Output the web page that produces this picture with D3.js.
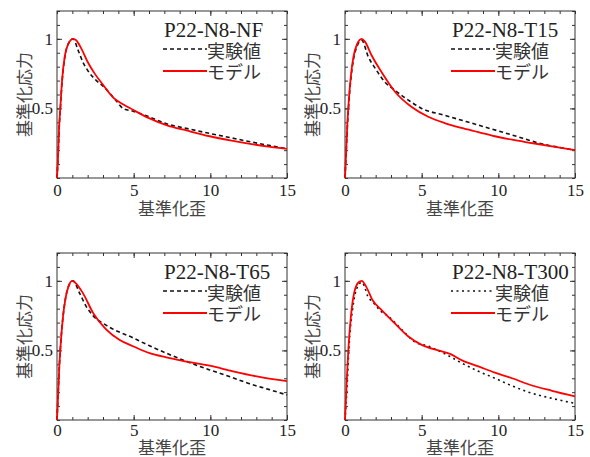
<!DOCTYPE html>
<html>
<head>
<meta charset="utf-8">
<script src="https://cdn.jsdelivr.net/npm/d3@7"></script>
<style>
  body { margin: 0; background: #fff; }
  svg { display: block; }
</style>
</head>
<body>
<svg id="Viz"></svg>
<script>
var width = 590,
    height = 457;

// normalized strain / normalized stress
var titles = ["P22-N8-NF", "P22-N8-T15", "P22-N8-T65", "P22-N8-T300"];
var expLabel = "実験値",
    modelLabel = "モデル";
var xTicks = [0, 5, 10, 15],
    yTicks = [0.5, 1];

var nfExp = [[0,0],[0.07,0.15],[0.13,0.33],[0.22,0.50],[0.33,0.69],[0.5,0.86],[0.72,0.96],[1.05,1.0],[1.37,0.92],[1.7,0.83],[2.02,0.77],[2.57,0.70],[3.0,0.66],[3.43,0.61],[3.9,0.55],[4.3,0.50],[4.96,0.48],[6,0.44],[7.13,0.39],[8.5,0.355],[9.96,0.32],[11.3,0.29],[12.6,0.26],[13.8,0.235],[15,0.21]];
var nfModel = [[0,0],[0.07,0.155],[0.13,0.345],[0.22,0.51],[0.33,0.70],[0.5,0.87],[0.72,0.96],[1.05,1.0],[1.25,0.99],[1.59,0.93],[2.02,0.83],[2.46,0.75],[3.0,0.67],[3.65,0.58],[4.3,0.53],[4.96,0.49],[6,0.43],[7.13,0.38],[8.5,0.34],[9.96,0.30],[11.3,0.27],[12.6,0.245],[13.8,0.225],[15,0.21]];

var t15Exp = [[0,0],[0.08,0.19],[0.15,0.36],[0.25,0.54],[0.38,0.71],[0.55,0.85],[0.8,0.95],[1.09,0.99],[1.52,0.87],[1.96,0.79],[2.6,0.69],[3.26,0.63],[4.13,0.56],[5.0,0.50],[6.52,0.45],[8.7,0.38],[10.87,0.31],[13.04,0.24],[14,0.22],[15,0.20]];
var t15Model = [[0,0],[0.08,0.2],[0.15,0.38],[0.25,0.56],[0.38,0.73],[0.55,0.87],[0.78,0.96],[1.09,1.0],[1.3,0.98],[1.74,0.88],[2.39,0.76],[3.26,0.62],[4.35,0.51],[5.43,0.44],[6.5,0.395],[7.6,0.36],[8.7,0.33],[9.78,0.30],[10.9,0.275],[11.96,0.255],[13.5,0.228],[15,0.20]];

var t65Exp = [[0,0],[0.08,0.2],[0.15,0.38],[0.25,0.56],[0.38,0.73],[0.55,0.87],[0.75,0.96],[1.05,1.0],[1.48,0.91],[1.91,0.815],[2.35,0.75],[3.22,0.68],[4.96,0.59],[6,0.535],[7.13,0.48],[8,0.44],[9.96,0.36],[11.3,0.31],[12.57,0.26],[13.8,0.22],[15,0.18]];
var t65Model = [[0,0],[0.08,0.2],[0.15,0.38],[0.25,0.56],[0.38,0.73],[0.55,0.87],[0.75,0.96],[1.0,1.0],[1.2,0.985],[1.7,0.91],[2.35,0.77],[3.22,0.65],[4.09,0.575],[4.96,0.53],[6.04,0.48],[7.13,0.45],[8.2,0.425],[9.96,0.39],[11.48,0.35],[13.2,0.31],[15,0.28]];

var t300Exp = [[0,0],[0.13,0.23],[0.28,0.56],[0.5,0.8],[0.75,0.94],[1.09,0.99],[1.3,0.95],[1.48,0.89],[1.8,0.85],[2.35,0.78],[2.83,0.745],[3.7,0.65],[4.57,0.56],[5.43,0.53],[6.52,0.475],[7.6,0.41],[8.7,0.35],[9.78,0.30],[10.9,0.245],[11.96,0.20],[13.5,0.155],[15,0.12]];
var t300Model = [[0,0],[0.11,0.275],[0.22,0.51],[0.39,0.75],[0.61,0.92],[0.89,0.99],[1.09,1.0],[1.37,0.96],[1.8,0.86],[2.39,0.79],[3.2,0.70],[4.13,0.60],[5,0.54],[6.09,0.50],[6.85,0.475],[7.6,0.43],[8.7,0.385],[9.78,0.34],[10.9,0.30],[11.96,0.257],[13.5,0.21],[15,0.17]];

var panels = [
  { title: titles[0], exp: nfExp,   model: nfModel,   dash: "4,3",   left: 57,  top: 11,  pad: 6, xlab: 29 },
  { title: titles[1], exp: t15Exp,  model: t15Model,  dash: "4,3",   left: 345, top: 11,  pad: 6, xlab: 29 },
  { title: titles[2], exp: t65Exp,  model: t65Model,  dash: "4,3",   left: 57,  top: 253, pad: 4, xlab: 26 },
  { title: titles[3], exp: t300Exp, model: t300Model, dash: "2,3.5", left: 345, top: 253, pad: 4, xlab: 26 }
];

var pw = 230, ph = 167;
var serif = "'Liberation Serif', 'Times New Roman', serif",
    jp = "'Noto Sans CJK JP', sans-serif";

var svg = d3.select("#Viz").attr("width", width).attr("height", height);
svg.append("rect").attr("width", width).attr("height", height).attr("fill", "#fff");

var x = d3.scaleLinear().domain([0, 15]).range([0, pw]);
var y = d3.scaleLinear().domain([0, 1.2]).range([ph, 0]);

var line = d3.line()
  .x(function(d){ return x(d[0]) })
  .y(function(d){ return y(d[1]) })
  .curve(d3.curveMonotoneX);

panels.forEach(function(p){
  var g = svg.append("g").attr("transform", "translate(" + p.left + "," + p.top + ")");

  // minor ticks, all four sides, pointing inward
  var xm = d3.range(0, 16, 1), ym = d3.range(0, 1.21, 0.1);
  g.append("g").attr("transform", "translate(0," + ph + ")")
    .call(d3.axisBottom(x).tickValues(xm).tickSize(-3).tickFormat(""));
  g.append("g").call(d3.axisTop(x).tickValues(xm).tickSize(-3).tickFormat(""));
  g.append("g").call(d3.axisLeft(y).tickValues(ym).tickSize(-3).tickFormat(""));
  g.append("g").attr("transform", "translate(" + pw + ",0)")
    .call(d3.axisRight(y).tickValues(ym).tickSize(-3).tickFormat(""));

  // major ticks with labels
  g.append("g").attr("transform", "translate(0," + ph + ")")
    .call(d3.axisBottom(x).tickValues(xTicks).tickSize(-5).tickPadding(p.pad).tickFormat(d3.format("")));
  g.append("g").call(d3.axisTop(x).tickValues([5, 10]).tickSize(-5).tickFormat(""));
  g.append("g")
    .call(d3.axisLeft(y).tickValues(yTicks).tickSize(-5).tickPadding(4).tickFormat(d3.format("")));
  g.append("g").attr("transform", "translate(" + pw + ",0)")
    .call(d3.axisRight(y).tickValues(yTicks).tickSize(-5).tickFormat(""));

  g.selectAll(".domain").remove();
  g.selectAll(".tick line").attr("stroke", "#333");
  g.selectAll(".tick text").style("font-family", serif).style("font-size", "17px").attr("fill", "#222");

  g.append("rect").attr("width", pw).attr("height", ph)
    .attr("fill", "none").attr("stroke", "#333").attr("stroke-width", 1);

  // curves
  g.append("path").datum(p.exp).attr("d", line)
    .attr("fill", "none").attr("stroke", "#111").attr("stroke-width", 1.6)
    .attr("stroke-dasharray", p.dash);
  g.append("path").datum(p.model).attr("d", line)
    .attr("fill", "none").attr("stroke", "#ff0000").attr("stroke-width", 1.8);

  // legend
  g.append("text").attr("x", 107).attr("y", 26).text(p.title)
    .style("font-family", serif).style("font-size", "21px").attr("fill", "#222");
  g.append("line").attr("x1", 106).attr("x2", 150).attr("y1", 38).attr("y2", 38)
    .attr("stroke", "#111").attr("stroke-width", 1.6).attr("stroke-dasharray", p.dash);
  g.append("text").attr("x", 150).attr("y", 39).attr("dominant-baseline", "central").text(expLabel)
    .style("font-family", jp).style("font-size", "18px").attr("fill", "#333");
  g.append("line").attr("x1", 106).attr("x2", 150).attr("y1", 60).attr("y2", 60)
    .attr("stroke", "#ff0000").attr("stroke-width", 1.8);
  g.append("text").attr("x", 150).attr("y", 60).attr("dominant-baseline", "central").text(modelLabel)
    .style("font-family", jp).style("font-size", "18px").attr("fill", "#333");

  // axis titles
  g.append("text").attr("x", pw / 2).attr("y", ph + p.xlab).attr("text-anchor", "middle")
    .attr("dominant-baseline", "central").text("基準化歪")
    .style("font-family", jp).style("font-size", "17px").attr("fill", "#444");
  g.append("text").attr("transform", "translate(-34," + (ph / 2) + ") rotate(-90)")
    .attr("text-anchor", "middle").attr("dominant-baseline", "central").text("基準化応力")
    .style("font-family", jp).style("font-size", "17px").attr("fill", "#444");
});
</script>
</body>
</html>
